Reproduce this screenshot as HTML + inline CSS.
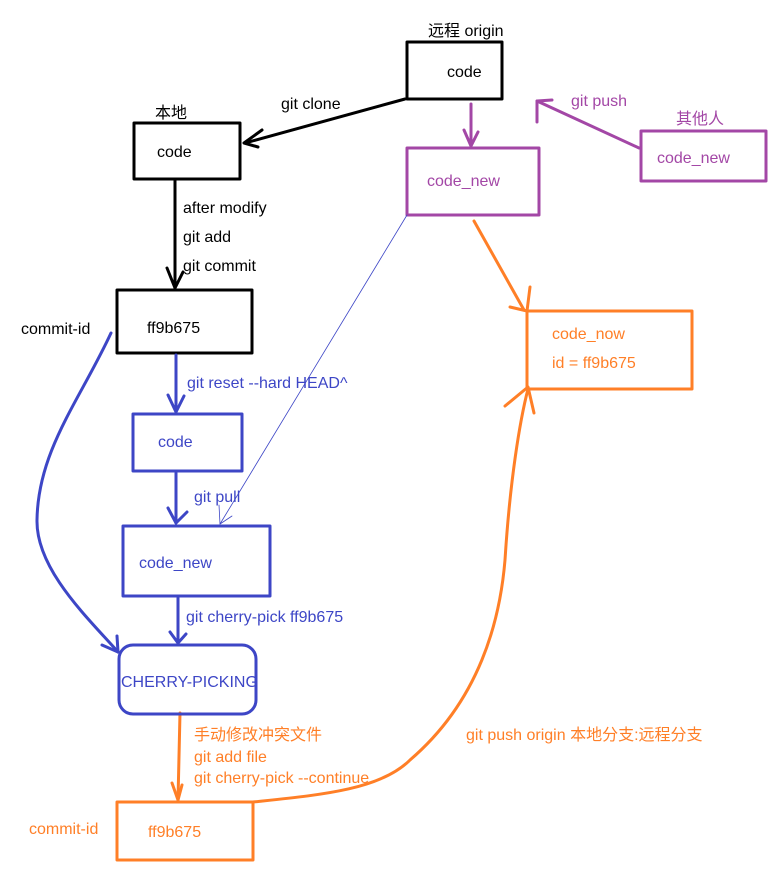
<!DOCTYPE html>
<html><head><meta charset="utf-8"><style>body{margin:0;background:#fff}svg text{font-family:"Liberation Sans","Noto Sans CJK SC",sans-serif;font-size:16px}</style></head><body>
<svg width="780" height="872" xmlns="http://www.w3.org/2000/svg">
<g fill="none" stroke-linecap="round" stroke-linejoin="round">
<!-- black -->
<g stroke="#000" stroke-width="3">
<rect x="407" y="42" width="95" height="57"/>
<rect x="134" y="123" width="106" height="56"/>
<rect x="117" y="290" width="135" height="63"/>
<line x1="405" y1="99" x2="245" y2="143"/>
<polyline points="262,130 244,143 258,147"/>
<line x1="175" y1="180" x2="175" y2="288"/>
<polyline points="167,268 175,288 183,272"/>
</g>
<!-- purple -->
<g stroke="#a347a6" stroke-width="3">
<rect x="407" y="148" width="132" height="67"/>
<rect x="641" y="131" width="125" height="50"/>
<line x1="471" y1="104" x2="471" y2="146"/>
<polyline points="464,130 471,146 478,132"/>
<line x1="639" y1="148" x2="537" y2="101"/>
<polyline points="537,122 537,101 552,100"/>
</g>
<!-- orange -->
<g stroke="#ff7f27" stroke-width="3">
<rect x="527" y="311" width="165" height="78"/>
<rect x="117" y="802" width="136" height="58"/>
<line x1="474" y1="221" x2="524" y2="310"/>
<polyline points="510,307 527,311 530,287"/>
<line x1="180" y1="713" x2="178" y2="800"/>
<polyline points="172,783 178,800 182,785"/>
<path d="M253,802 C320,795 380,790 410,760 C480,700 500,620 505,560 C510,480 520,420 528,389"/>
<polyline points="505,406 528,387 534,413"/>
</g>
<!-- blue -->
<g stroke="#3d46c6" stroke-width="3">
<rect x="133" y="414" width="109" height="57"/>
<rect x="123" y="526" width="147" height="70"/>
<rect x="119" y="645" width="137" height="69" rx="14"/>
<line x1="176" y1="355" x2="176" y2="412"/>
<polyline points="168,395 176,412 184,396"/>
<line x1="176" y1="473" x2="176" y2="523"/>
<polyline points="168,508 176,523 187,512"/>
<line x1="178" y1="598" x2="178" y2="643"/>
<polyline points="170,632 178,643 186,634"/>
<path d="M111,333 C80,400 38,450 37,520 C36,570 90,620 118,652"/>
<polyline points="102,645 118,652 117,636"/>
</g>
<g stroke="#3d46c6" stroke-width="0.8">
<line x1="407" y1="215" x2="220" y2="524"/>
<polyline points="219,505 220,524 232,516"/>
</g>
</g>
<text x="428" y="36" fill="#000">远程 origin</text>
<text x="447" y="77" fill="#000">code</text>
<text x="281" y="109" fill="#000">git clone</text>
<text x="155" y="118" fill="#000">本地</text>
<text x="157" y="157" fill="#000">code</text>
<text x="183" y="213" fill="#000">after modify</text>
<text x="183" y="242" fill="#000">git add</text>
<text x="183" y="271" fill="#000">git commit</text>
<text x="21" y="334" fill="#000">commit-id</text>
<text x="147" y="333" fill="#000">ff9b675</text>
<text x="571" y="106" fill="#a347a6">git push</text>
<text x="676" y="124" fill="#a347a6">其他人</text>
<text x="657" y="163" fill="#a347a6">code_new</text>
<text x="427" y="186" fill="#a347a6">code_new</text>
<text x="552" y="339" fill="#ff7f27">code_now</text>
<text x="552" y="368" fill="#ff7f27">id =  ff9b675</text>
<text x="187" y="388" fill="#3d46c6">git reset --hard HEAD^</text>
<text x="158" y="447" fill="#3d46c6">code</text>
<text x="194" y="502" fill="#3d46c6">git pull</text>
<text x="139" y="568" fill="#3d46c6">code_new</text>
<text x="186" y="622" fill="#3d46c6">git cherry-pick ff9b675</text>
<text x="121" y="687" fill="#3d46c6">CHERRY-PICKING</text>
<text x="194" y="740" fill="#ff7f27">手动修改冲突文件</text>
<text x="194" y="762" fill="#ff7f27">git add file</text>
<text x="194" y="783" fill="#ff7f27">git cherry-pick --continue</text>
<text x="466" y="740" fill="#ff7f27">git push origin 本地分支:远程分支</text>
<text x="29" y="834" fill="#ff7f27">commit-id</text>
<text x="148" y="837" fill="#ff7f27">ff9b675</text>
</svg>
</body></html>
